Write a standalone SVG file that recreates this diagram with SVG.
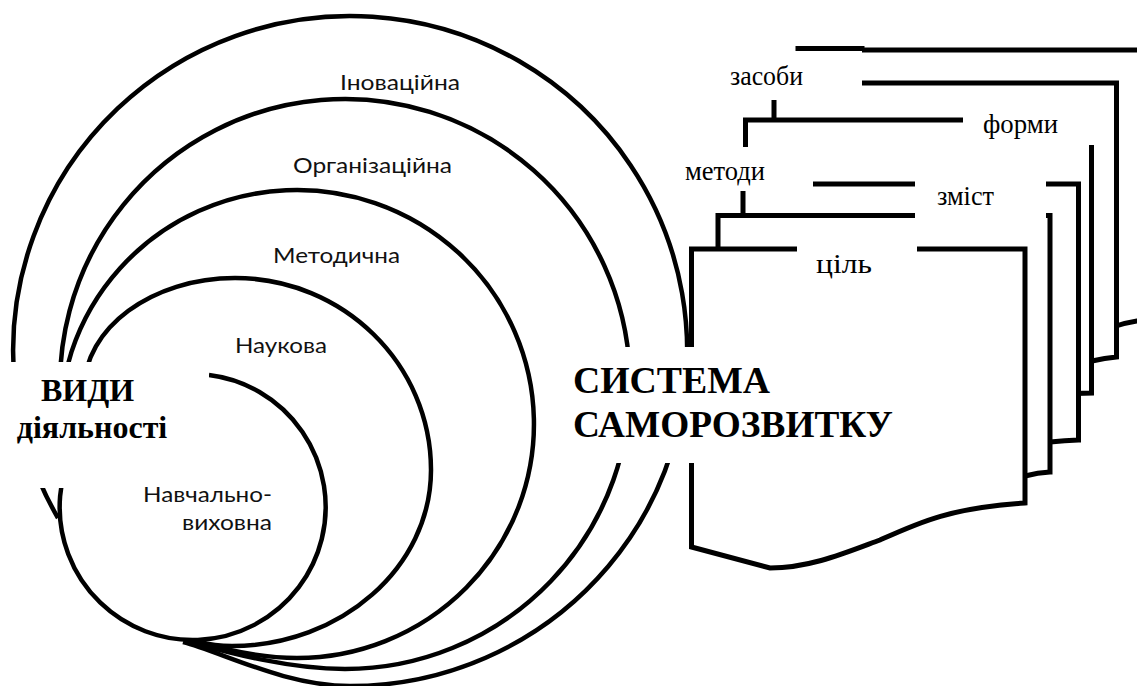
<svg xmlns="http://www.w3.org/2000/svg" width="1137" height="686" viewBox="0 0 1137 686">
<style>
.arc{fill:none;stroke:#000;stroke-width:4.5}
.pg{fill:#fff;stroke:#000;stroke-width:5;stroke-linejoin:miter}
.mask{fill:#fff;stroke:none}
.lbl{font-family:Lato,"Open Sans",sans-serif;font-size:21px;fill:#111}
.plbl{font-family:"Liberation Serif","DejaVu Serif",serif;font-size:27px;fill:#000}
.big{font-family:"Liberation Serif","DejaVu Serif",serif;font-weight:700;fill:#000}
</style>
<rect width="1137" height="686" fill="#fff"/>
<g id="connectors">
 <path id="arc-inovatsiina" class="arc" d="M58,518 A337,335 0 1 1 350,686 C285,686 222,652 183,642"/>
 <path id="arc-orhanizatsiina" class="arc" d="M62.3,420 A285,285 0 1 1 345,669 C290,669 230,653 190,642"/>
 <path id="arc-metodychna" class="arc" d="M60.5,440 A237,234 0 1 1 297,658 C262,658 226,650 198,642"/>
 <path id="arc-naukova" class="arc" d="M84,390 C84,328 152,278 235,278 C343,278 431,364 431,470 C431,567 341,646 232,646 C217,646 207,644 200,642"/>
 <path id="arc-navchalna" class="arc" d="M209,375 A133,133 0 1 1 75,445"/>
</g>
<g id="page-6"><path class="pg" d="M798,48.5 L862,48.5 L862,50 L1160,50 L1160,318 L1137,321 Q1125,323 1116,326 L798,330 Z"/></g>
<g id="page-5"><path class="pg" d="M774,83 L1116.5,83 L1116.5,357 Q1105,358 1092,361 L774,361 Z"/></g>
<g id="page-4"><path class="pg" d="M745.5,120 L1091.5,120 L1091.5,393 L1075,393.5 L745.5,393.5 Z"/></g>
<g id="page-3"><path class="pg" d="M743,184 L1078.5,184 L1078.5,440 Q1065,440.5 1050,442 L743,442 Z"/></g>
<g id="page-2"><path class="pg" d="M718,215.5 L1050,215.5 L1050,472 Q1038,472.5 1025,476 L718,476 Z"/></g>
<g id="page-1"><path class="pg" d="M691.5,249 L1025,249 L1025,503 C950,508 920,522 880,540 C845,553 810,568 770,568 L691.5,547 Z"/></g>
<g id="lbl-zasoby"><rect class="mask" x="700" y="51" width="162" height="49"/><text class="plbl" font-family="Liberation Serif, serif" x="730" y="85" textLength="73" lengthAdjust="spacingAndGlyphs">засоби</text></g>
<g id="lbl-formy"><rect class="mask" x="963" y="108" width="134" height="37"/><text class="plbl" font-family="Liberation Serif, serif" x="983" y="133" textLength="75" lengthAdjust="spacingAndGlyphs">форми</text></g>
<g id="lbl-metody"><rect class="mask" x="678" y="147" width="135" height="44"/><text class="plbl" font-family="Liberation Serif, serif" x="685" y="180" textLength="80" lengthAdjust="spacingAndGlyphs">методи</text></g>
<g id="lbl-zmist"><rect class="mask" x="915" y="180" width="131" height="39"/><text class="plbl" font-family="Liberation Serif, serif" x="937" y="205" textLength="57" lengthAdjust="spacingAndGlyphs">зміст</text></g>
<g id="lbl-tsil"><rect class="mask" x="797" y="244" width="120" height="38"/><text class="plbl" font-family="Liberation Serif, serif" font-size="28" x="816" y="273" textLength="56" lengthAdjust="spacingAndGlyphs">ціль</text></g>
<g id="node-vydy"><rect class="mask" x="0" y="362" width="209" height="126"/>
 <text class="big" font-family="Liberation Serif, serif" x="87.5" y="401" font-size="32" text-anchor="middle">ВИДИ</text>
 <text class="big" font-family="Liberation Serif, serif" x="92" y="438" font-size="32" text-anchor="middle">діяльності</text></g>
<g id="node-systema"><rect class="mask" x="562" y="347" width="348" height="116"/>
 <text class="big" font-family="Liberation Serif, serif" x="573" y="393" font-size="38" textLength="197" lengthAdjust="spacingAndGlyphs">СИСТЕМА</text>
 <text class="big" font-family="Liberation Serif, serif" x="573" y="437" font-size="38" textLength="320" lengthAdjust="spacingAndGlyphs">САМОРОЗВИТКУ</text></g>
<g id="labels-left">
 <text class="lbl" x="340" y="90" textLength="120" lengthAdjust="spacingAndGlyphs">Іноваційна</text>
 <text class="lbl" x="293" y="173" textLength="159" lengthAdjust="spacingAndGlyphs">Організаційна</text>
 <text class="lbl" x="273" y="263" textLength="127" lengthAdjust="spacingAndGlyphs">Методична</text>
 <text class="lbl" x="235" y="353" textLength="92" lengthAdjust="spacingAndGlyphs">Наукова</text>
 <text class="lbl" x="143" y="502" textLength="129" lengthAdjust="spacingAndGlyphs">Навчально-</text>
 <text class="lbl" x="182" y="530" textLength="90" lengthAdjust="spacingAndGlyphs">виховна</text>
</g>
</svg>
